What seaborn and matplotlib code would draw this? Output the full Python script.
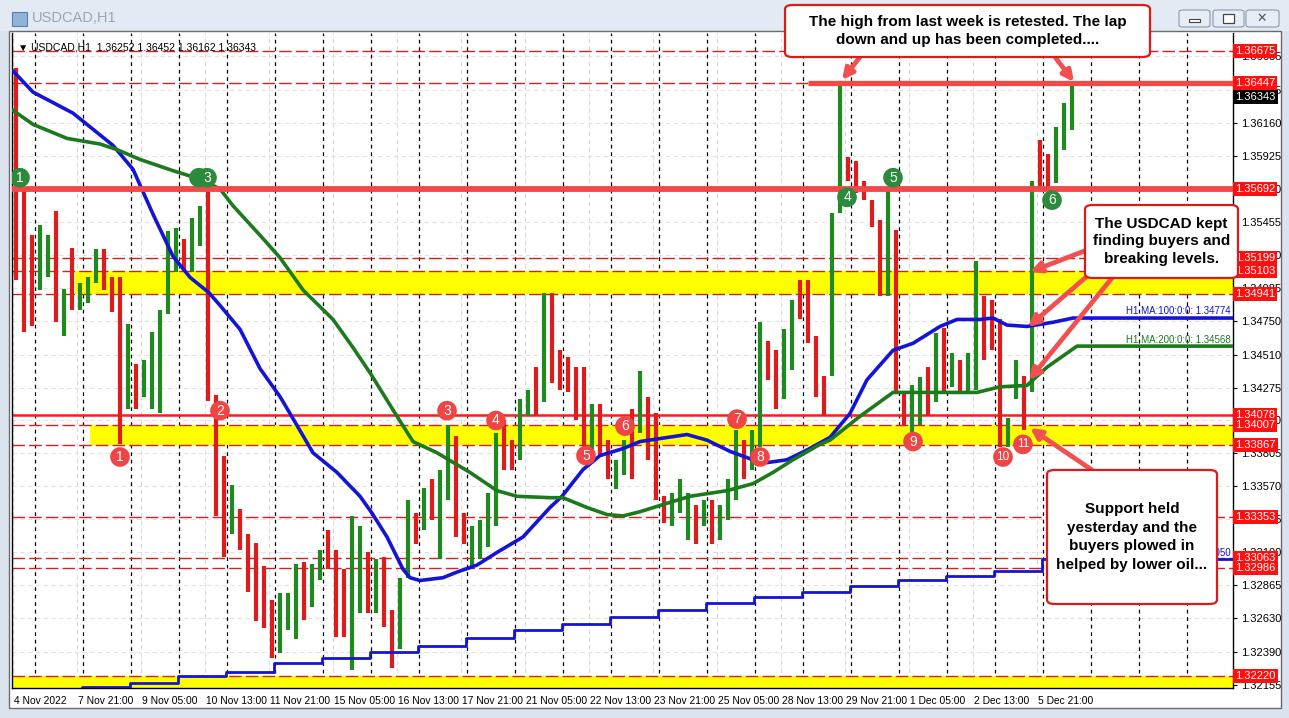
import numpy as np
import matplotlib
matplotlib.use("Agg")
import matplotlib.pyplot as plt
import matplotlib.transforms as mtrans
from matplotlib.patches import FancyBboxPatch, Rectangle, FancyArrowPatch
import seaborn as sns

# ---------------- data ----------------
# 4-hour aggregated price bars, starting 4 Nov 2022 13:00 (H1 bar index = 4*k)
bar_high = [1.3655, 1.3568, 1.3536, 1.3543, 1.3536, 1.3553, 1.3498, 1.3527, 1.3502, 1.3506,
            1.3526, 1.3526, 1.3506, 1.3506, 1.3473, 1.3444, 1.3447, 1.3467, 1.3483, 1.3539,
            1.3541, 1.3533, 1.3548, 1.3557, 1.3569, 1.3422, 1.3379, 1.3358, 1.3341, 1.3323,
            1.3317, 1.3300, 1.3276, 1.3281, 1.3281, 1.3302, 1.3303, 1.3302, 1.3312, 1.3326,
            1.3312, 1.3298, 1.3336, 1.3329, 1.3310, 1.3305, 1.3307, 1.3269, 1.3292, 1.3347,
            1.3338, 1.3356, 1.3362, 1.3369, 1.3401, 1.3393, 1.3338, 1.3329, 1.3333, 1.3352,
            1.3395, 1.3404, 1.3390, 1.3419, 1.3426, 1.3442, 1.3495, 1.3495, 1.3454, 1.3449,
            1.3442, 1.3442, 1.3416, 1.3416, 1.3390, 1.3376, 1.3390, 1.3412, 1.3439, 1.3421,
            1.3409, 1.3350, 1.3352, 1.3362, 1.3352, 1.3344, 1.3347, 1.3347, 1.3344, 1.3362,
            1.3397, 1.3390, 1.3397, 1.3474, 1.3461, 1.3454, 1.3469, 1.3490, 1.3504, 1.3504,
            1.3464, 1.3436, 1.3552, 1.3645, 1.3592, 1.3589, 1.3575, 1.3561, 1.3547, 1.3570,
            1.3540, 1.3424, 1.3429, 1.3435, 1.3442, 1.3466, 1.3470, 1.3452, 1.3447, 1.3452,
            1.3518, 1.3493, 1.3490, 1.3476, 1.3406, 1.3447, 1.3436, 1.3575, 1.3604, 1.3594,
            1.3613, 1.3630, 1.3645]
bar_low = [1.3504, 1.3467, 1.3471, 1.3497, 1.3506, 1.3474, 1.3464, 1.3483, 1.3483, 1.3488,
           1.3502, 1.3497, 1.3481, 1.3387, 1.3412, 1.3412, 1.3421, 1.3412, 1.3409, 1.3480,
           1.3510, 1.3510, 1.3510, 1.3528, 1.3418, 1.3336, 1.3307, 1.3323, 1.3312, 1.3282,
           1.3261, 1.3256, 1.3235, 1.3238, 1.3255, 1.3248, 1.3262, 1.3271, 1.3290, 1.3298,
           1.3250, 1.3250, 1.3226, 1.3267, 1.3267, 1.3267, 1.3257, 1.3228, 1.3241, 1.3292,
           1.3316, 1.3326, 1.3333, 1.3305, 1.3347, 1.3321, 1.3316, 1.3300, 1.3305, 1.3314,
           1.3329, 1.3369, 1.3369, 1.3376, 1.3407, 1.3407, 1.3417, 1.3431, 1.3426, 1.3424,
           1.3404, 1.3385, 1.3381, 1.3378, 1.3362, 1.3355, 1.3365, 1.3362, 1.3395, 1.3376,
           1.3347, 1.3331, 1.3329, 1.3338, 1.3319, 1.3316, 1.3329, 1.3316, 1.3319, 1.3333,
           1.3347, 1.3362, 1.3369, 1.3385, 1.3433, 1.3412, 1.3419, 1.3440, 1.3476, 1.3459,
           1.3421, 1.3407, 1.3436, 1.3552, 1.3575, 1.3566, 1.3561, 1.3542, 1.3493, 1.3493,
           1.3424, 1.3400, 1.3396, 1.3401, 1.3407, 1.3417, 1.3424, 1.3428, 1.3424, 1.3424,
           1.3426, 1.3447, 1.3454, 1.3385, 1.3385, 1.3419, 1.3397, 1.3424, 1.3570, 1.3570,
           1.3573, 1.3597, 1.3611]
bar_dir = ("RRRGGRGRGG" "GRRRGRGGGG" "GRGGRRRGRR" "RRRGGGRGGR" "RRGGRGRRGG"
           "RGRGGRRGGG" "GRRGGRGRRR" "RRGRRGGRGR" "RRGGGRGRGG" "GRGGRRGGRR"
           "RRGGRRRRRG" "RRGGRGRGRG" "GRRRGGRGRR" "GGG")

# H1 100-period MA (blue) and 200-period MA (green): (H1 bar index, price)
ma100_idx = [0, 10, 30, 50, 60, 70, 80, 88.5, 98, 103.5, 113.5, 123.5, 133.5, 138.5, 150, 162,
             173.5, 179.5, 187, 195, 198.5, 203.5, 215, 222, 232, 242, 255, 268.5, 274.5, 285,
             293.5, 305, 313.5, 337, 347, 358.5, 370, 377, 387, 397, 408.5, 418.5, 427, 440,
             450, 463.5, 472, 483.5, 490, 497, 507, 520, 530, 610]
ma100_val = [1.3653, 1.3638, 1.3623, 1.3600, 1.3583, 1.3551, 1.3521, 1.3506, 1.3495, 1.3486,
             1.3469, 1.3441, 1.3421, 1.3409, 1.3381, 1.3367, 1.3350, 1.3338, 1.3321, 1.3298,
             1.3292, 1.3290, 1.3292, 1.3296, 1.3301, 1.3310, 1.3321, 1.3342, 1.3350, 1.3369,
             1.3379, 1.3384, 1.3389, 1.3394, 1.3390, 1.3382, 1.3376, 1.3374, 1.3376, 1.3383,
             1.3392, 1.3409, 1.3433, 1.3454, 1.3459, 1.3471, 1.3476, 1.3476, 1.3477, 1.3472,
             1.3471, 1.3474, 1.3477, 1.3477]
ma200_idx = [0, 10, 27, 43.5, 52, 63.5, 80, 93.5, 103.5, 110, 123.5, 133.5, 145, 160, 170,
             178.5, 192, 200, 212, 228.5, 242, 252, 268.5, 275, 287, 297, 305, 313.5, 327,
             338.5, 357, 370, 380, 390, 403.5, 408.5, 423.5, 440, 452, 468.5, 482, 493.5,
             507, 517, 532, 610]
ma200_val = [1.3625, 1.3615, 1.3605, 1.3601, 1.3597, 1.3590, 1.3582, 1.3576, 1.3569, 1.3557,
             1.3536, 1.3520, 1.3497, 1.3476, 1.3456, 1.3438, 1.3407, 1.3389, 1.3381, 1.3367,
             1.3354, 1.3350, 1.3349, 1.3349, 1.3342, 1.3337, 1.3336, 1.3339, 1.3345, 1.3350,
             1.3354, 1.3359, 1.3367, 1.3376, 1.3387, 1.3390, 1.3407, 1.3424, 1.3424, 1.3424,
             1.3424, 1.3428, 1.3429, 1.3442, 1.3457, 1.3457]
# daily-step MA (blue, bottom), one value per trading day from 8 Nov to 6 Dec
step_val = [1.3214, 1.3217, 1.3222, 1.3225, 1.3231, 1.3235, 1.3239, 1.3243, 1.3249, 1.3255,
            1.3259, 1.3264, 1.3269, 1.3274, 1.3278, 1.3282, 1.3286, 1.3290, 1.3293, 1.3297,
            1.3305]
step_first_idx = 34.5

# horizontal levels
dashed_levels = [1.36675, 1.36447, 1.35199, 1.35103, 1.34941, 1.34007, 1.33867, 1.33353,
                 1.33063, 1.32986, 1.32220]
solid_level = 1.34078
thick_level_full = 1.35692
thick_level_recent = 1.36447
yellow_bands = [(1.34941, 1.35103, 31), (1.33867, 1.34007, 38.5), (1.32100, 1.32220, -1)]
red_labels = [1.36675, 1.36447, 1.35692, 1.35199, 1.35103, 1.34941, 1.34078, 1.34007,
              1.33867, 1.33353, 1.33063, 1.32986, 1.32220]
last_price = 1.36343
y_ticks = [1.36635, 1.36395, 1.36160, 1.35925, 1.35690, 1.35455, 1.35220, 1.34985, 1.34750,
           1.34510, 1.34275, 1.34040, 1.33805, 1.33570, 1.33335, 1.33100, 1.32865, 1.32630,
           1.32390, 1.32155]
x_tick_idx = [0, 32, 64, 96, 128, 160, 192, 224, 256, 288, 320, 352, 384, 416, 448, 480, 512]
x_tick_lab = ["4 Nov 2022", "7 Nov 21:00", "9 Nov 05:00", "10 Nov 13:00", "11 Nov 21:00",
              "15 Nov 05:00", "16 Nov 13:00", "17 Nov 21:00", "21 Nov 05:00", "22 Nov 13:00",
              "23 Nov 21:00", "25 Nov 05:00", "28 Nov 13:00", "29 Nov 21:00", "1 Dec 05:00",
              "2 Dec 13:00", "5 Dec 21:00"]
day_sep_idx = list(range(11, 611, 24))

green_marks = [(3.5, 1.3577, "1"), (93, 1.3577, ""), (97, 1.3577, "3"), (417, 1.3563, "4"),
               (440, 1.3577, "5"), (519.5, 1.3561, "6")]
red_marks = [(53.5, 1.3378, "1"), (103.5, 1.3411, "2"), (217, 1.3411, "3"), (241.5, 1.3404, "4"),
             (286.5, 1.3379, "5"), (306, 1.3400, "6"), (362, 1.3405, "7"), (373.5, 1.3378, "8"),
             (450, 1.3389, "9"), (495, 1.3378, "10"), (505, 1.3387, "11")]

# ---------------- figure ----------------
W, H = 1289, 718
sns.set_theme(style="white")
plt.rcParams['font.family'] = ['Liberation Sans', 'DejaVu Sans']

fig = plt.figure(figsize=(W / 100, H / 100), dpi=100)
fig.patch.set_facecolor('#dbe4ee')

def fx(x):
    return x / W

def fy(y):
    return 1 - y / H

# window chrome
fig.add_artist(Rectangle((0, fy(31)), 1, fy(0) - fy(31), transform=fig.transFigure,
                         facecolor='#e3eaf3', edgecolor='none', zorder=-2))
fig.add_artist(Rectangle((fx(9), fy(708)), fx(1281) - fx(9), fy(31) - fy(708),
                         transform=fig.transFigure, facecolor='white', edgecolor='#6b6b6b',
                         lw=1.0, zorder=-1))
fig.add_artist(Rectangle((fx(12), fy(26)), fx(15), fy(12) - fy(26), transform=fig.transFigure,
                         facecolor='#8fb4d8', edgecolor='#5a7fa8', lw=0.8))
fig.text(fx(32), fy(18), "USDCAD,H1", fontsize=10.5, color='#9aa6b4', va='center')
for bx_, bw in [(1179, 31), (1213, 31), (1246, 33)]:
    fig.add_artist(FancyBboxPatch((fx(bx_), fy(27)), fx(bw), fy(10) - fy(27),
                                  boxstyle='round,pad=0,rounding_size=0.003',
                                  transform=fig.transFigure, facecolor='#e6edf5',
                                  edgecolor='#8a99ab', lw=0.8))
fig.add_artist(Rectangle((fx(1189), fy(22)), fx(11), fy(19) - fy(22), transform=fig.transFigure,
                         facecolor='white', edgecolor='#444', lw=0.8))
fig.add_artist(Rectangle((fx(1223), fy(23)), fx(11), fy(14) - fy(23), transform=fig.transFigure,
                         facecolor='white', edgecolor='#444', lw=0.9))
fig.text(fx(1262), fy(18.5), "\u2715", fontsize=9, color='#555', ha='center', va='center',
         family=['DejaVu Sans'])

# plot axes
ax = fig.add_axes([fx(12), fy(688), fx(1233) - fx(12), fy(33) - fy(688)])
ax.set_zorder(1)
ax.set_facecolor('white')
ymin, ymax = 1.32134, 1.36801
ax.set_xlim(-0.5, 610)
ax.set_ylim(ymin, ymax)

# grid + period separators
for t in x_tick_idx:
    ax.axvline(t, color='#dcdcdc', lw=0.8, ls=(0, (4, 3)), zorder=0.5)
for p in y_ticks:
    ax.axhline(p, color='#e2e2e2', lw=0.8, ls=(0, (4, 3)), zorder=0.5)
for d in day_sep_idx:
    ax.axvline(d, color='black', lw=0.9, ls=(0, (3, 3)), zorder=1)

# yellow bands
for lo, hi, start in yellow_bands:
    ax.fill_between([start, 610], lo, hi, color='#ffff00', lw=0, zorder=1.2)

# dashed levels
for p in dashed_levels:
    ax.axhline(p, color='#d42020', lw=1.0, ls=(0, (9, 3)), zorder=1.5)
ax.axhline(solid_level, color='#ff1a1a', lw=1.8, zorder=1.5)

# price bars
bx = np.arange(len(bar_high)) * 4 + 1.5
cols = ['#1f8a1f' if d == 'G' else '#e01b1b' for d in bar_dir]
ax.vlines(bx, bar_low, bar_high, colors=cols, lw=3.0, zorder=2)

# moving averages via seaborn
sns.lineplot(x=ma100_idx, y=ma100_val, ax=ax, color='#1414d8', lw=2.6, zorder=3, sort=False)
sns.lineplot(x=ma200_idx, y=ma200_val, ax=ax, color='#1c7a1c', lw=2.6, zorder=3, sort=False)
step_idx = [step_first_idx + 24 * k for k in range(len(step_val))] + [610]
sns.lineplot(x=step_idx, y=step_val + [step_val[-1]], ax=ax, color='#1414d8', lw=2.0,
             zorder=3, sort=False, drawstyle='steps-post')

# thick red levels
ax.axhline(thick_level_full, color='#f24848', lw=4.2, zorder=4)
ax.plot([397.5, 610], [thick_level_recent, thick_level_recent], color='#f24848', lw=3.8,
        zorder=4, solid_capstyle='butt')

# numbered markers
for i, v, t in green_marks:
    ax.scatter([i], [v], s=200, color='#2b8a3c', edgecolors='none', zorder=6)
    ax.text(i, v, t, color='white', ha='center', va='center', fontsize=10, zorder=7)
for i, v, t in red_marks:
    ax.scatter([i], [v], s=200, color='#ef4545', edgecolors='none', zorder=6)
    ax.text(i, v, t, color='white', ha='center', va='center',
            fontsize=10 if len(t) == 1 else 8.5, zorder=7)

# MA labels
ax.text(609, 1.34774 + 0.00012, "H1 MA:100:0:0: 1.34774", color='#1414d8', fontsize=7,
        ha='right', va='bottom', zorder=5)
ax.text(609, 1.34568 + 0.00012, "H1 MA:200:0:0: 1.34568", color='#1c7a1c', fontsize=7,
        ha='right', va='bottom', zorder=5)
ax.text(609, 1.33050 + 0.00010, "D1 MA:100:0:0: 1.33050", color='#1414d8', fontsize=7,
        ha='right', va='bottom', zorder=5)

# info line
ax.text(0.005, 0.985, "\u25BC USDCAD,H1  1.36252 1.36452 1.36162 1.36343", transform=ax.transAxes,
        fontsize=7.5, ha='left', va='top', color='black', zorder=8,
        family=['Liberation Sans', 'DejaVu Sans'])

# axes styling
for s in ['left', 'right', 'bottom']:
    ax.spines[s].set_color('black')
    ax.spines[s].set_linewidth(1.0)
ax.spines['top'].set_visible(False)
ax.yaxis.tick_right()
ax.set_yticks(y_ticks)
ax.set_yticklabels([f"{p:.5f}" for p in y_ticks])
ax.tick_params(axis='y', direction='out', length=3, width=0.8, pad=3, labelsize=8,
               colors='black')
ax.set_xticks(x_tick_idx)
ax.set_xticklabels(x_tick_lab)
ax.tick_params(axis='x', direction='out', length=3, width=0.8, pad=3, labelsize=7.4,
               colors='black')
offset = mtrans.ScaledTranslation(1 / 100, 0, fig.dpi_scale_trans)
for lab in ax.get_xticklabels():
    lab.set_ha('left')
    lab.set_transform(lab.get_transform() + offset)
ax.set_xlabel("")
ax.set_ylabel("")

# price labels on the right scale
blend = mtrans.blended_transform_factory(ax.transAxes, ax.transData)
for p in red_labels:
    ax.text(1.0018, p, f"{p:.5f}", transform=blend, color='white', fontsize=8, ha='left',
            va='center', clip_on=False, zorder=10,
            bbox=dict(boxstyle='square,pad=0.18', fc='#ff1010', ec='none'))
ax.text(1.0018, last_price, f"{last_price:.5f}", transform=blend, color='white', fontsize=8,
        ha='left', va='center', clip_on=False, zorder=10,
        bbox=dict(boxstyle='square,pad=0.18', fc='black', ec='none'))

# ---------------- annotations ----------------
def tbox(x0, y0, x1, y1, text, lsp):
    fig.add_artist(FancyBboxPatch((fx(x0), fy(y1)), fx(x1) - fx(x0), fy(y0) - fy(y1),
                                  boxstyle='round,pad=0,rounding_size=0.006',
                                  transform=fig.transFigure, fc='white', ec='#e01818',
                                  lw=1.6, zorder=20))
    fig.text(fx((x0 + x1) / 2), fy((y0 + y1) / 2), text, ha='center', va='center',
             fontsize=11, fontweight='bold', color='black', linespacing=lsp, zorder=21)

def arrow(x0, y0, x1, y1):
    fig.add_artist(FancyArrowPatch((fx(x0), fy(y0)), (fx(x1), fy(y1)), transform=fig.transFigure,
                                   arrowstyle='-|>', mutation_scale=16, lw=3.4,
                                   color='#f25050', zorder=19, shrinkA=0, shrinkB=0))

tbox(785, 5, 1150, 57, "The high from last week is retested. The lap\ndown and up has been completed....", 1.35)
tbox(1085, 205, 1238, 278, "The USDCAD kept\nfinding buyers and\nbreaking levels.", 1.3)
tbox(1047, 470, 1217, 604, "Support held\nyesterday and the\nbuyers plowed in\nhelped by lower oil...", 1.4)

arrow(860, 57, 842, 80)
arrow(1055, 57, 1074, 82)
arrow(1087, 250, 1030, 272)
arrow(1092, 272, 1028, 327)
arrow(1112, 278, 1029, 380)
arrow(1092, 470, 1030, 428)

fig.savefig("out.png", dpi=100, facecolor=fig.get_facecolor())
